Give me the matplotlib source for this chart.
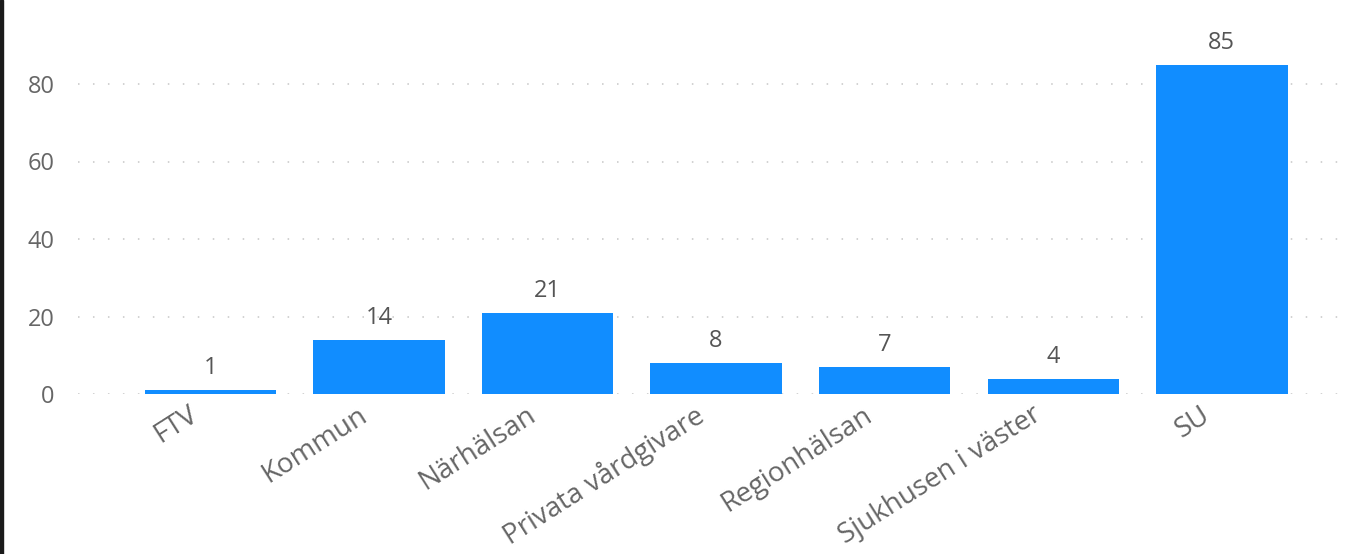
import matplotlib.pyplot as plt
import matplotlib.transforms as mtransforms
from matplotlib.patches import Rectangle

# === Datos ===
categorias = ["FTV", "Kommun", "Närhälsan", "Privata vårdgivare",
              "Regionhälsan", "Sjukhusen i väster", "SU"]
valores = [1, 14, 21, 8, 7, 4, 85]
yticks = [0, 20, 40, 60, 80]

plt.rcParams["font.family"] = ["Open Sans", "DejaVu Sans"]

fig = plt.figure(figsize=(13.57, 5.54), dpi=100)
ax = fig.add_axes([78 / 1357, 1 - 394 / 554, (1350 - 78) / 1357, (394 - 45.25) / 554])

x = range(len(categorias))
ax.bar(x, valores, width=0.78, color="#118DFF", zorder=2)

# Etiquetas de valor
for xi, v in zip(x, valores):
    ax.annotate(str(v), (xi, v), xytext=(0, 7), textcoords="offset points",
                ha="center", va="bottom", fontsize=17, color="#555555")

ax.set_xlim(-0.785, len(categorias) - 1 + 0.76)
ax.set_ylim(0, 90)
ax.set_yticks(yticks)
ax.set_xticks(list(x))
ax.set_xticklabels(categorias, rotation=32.5, ha="right", rotation_mode="anchor")
ax.tick_params(axis="y", length=0, pad=17, labelsize=17, labelcolor="#666666")
ax.tick_params(axis="x", length=0, pad=5, labelsize=20, labelcolor="#666666")

# desplazar etiquetas del eje x un poco a la izquierda
offset = mtransforms.ScaledTranslation(-22 / 100, 0, fig.dpi_scale_trans)
for lbl in ax.get_xticklabels():
    lbl.set_transform(lbl.get_transform() + offset)

# Cuadrícula punteada
ax.grid(axis="y", color="#c6c6c6", linewidth=1.1, linestyle=(0, (1, 8.8)), zorder=0)
ax.set_axisbelow(True)
for s in ax.spines.values():
    s.set_visible(False)

# Borde oscuro a la izquierda
fig.add_artist(Rectangle((0, 0), 3 / 1357, 1, transform=fig.transFigure,
                         color="#1a1a1a", zorder=10))

plt.savefig("out.png", dpi=100)
plt.close()
